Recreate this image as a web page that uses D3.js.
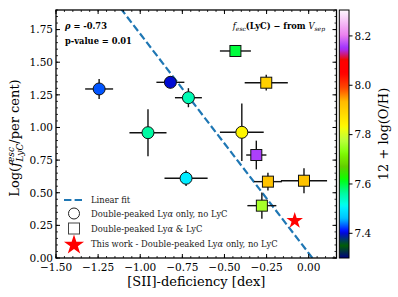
<!DOCTYPE html>
<html>
<head>
<meta charset="utf-8">
<script src="https://cdn.jsdelivr.net/npm/d3@7"></script>
<style>
  body { margin: 0; background: #fff; }
  svg { display: block; font-family: "DejaVu Serif", serif; }
</style>
</head>
<body>
<div id="chart"></div>
<script>
// Data
const circX = [-1.244, -0.821, -0.714, -0.954, -0.728, -0.397];
const circY = [1.295, 1.346, 1.228, 0.960, 0.611, 0.963];
const circXerr = [0.083, 0.083, 0.08, 0.11, 0.128, 0.13];
const circYerr = [0.077, 0.046, 0.073, 0.18, 0.06, 0.22];
const circOH = [7.43, 7.40, 7.55, 7.56, 7.50, 7.84];

const sqX = [-0.435, -0.252, -0.311, -0.242, -0.028, -0.278];
const sqY = [1.586, 1.343, 0.789, 0.585, 0.592, 0.401];
const sqXerr = [0.092, 0.128, 0.06, 0.083, 0.137, 0.086];
const sqYerr = [0.0, 0.06, 0.11, 0.068, 0.096, 0.10];
const sqOH = [7.60, 7.90, 8.16, 7.92, 7.92, 7.76];

const starX = [-0.083];
const starY = [0.286];

const fitSlope = -1.68, fitIntercept = 0.037;

const xTicks = [-1.5, -1.25, -1.0, -0.75, -0.5, -0.25, 0.0];
const yTicks = [0.0, 0.25, 0.5, 0.75, 1.0, 1.25, 1.5, 1.75];
const cbTicks = [7.4, 7.6, 7.8, 8.0, 8.2];
const legendLabels = ["Linear fit", "Double-peaked Ly\u03b1 only, no LyC", "Double-peaked Ly\u03b1 & LyC", "This work - Double-peaked Ly\u03b1 only, no LyC"];

// gist_ncar colormap segments
const ncarR = [[0,0],[0.3098,0],[0.3725,0.3993],[0.4235,0.5003],[0.5333,1],[0.7922,1],[0.8471,0.6218],[0.898,0.9235],[1,0.9961]];
const ncarG = [[0,0],[0.051,0.3722],[0.1059,0],[0.1569,0.7202],[0.1608,0.7537],[0.1647,0.7752],[0.2157,1],[0.2588,0.9804],[0.2706,0.9804],[0.3176,1],[0.3686,0.8081],[0.4275,1],[0.5216,1],[0.6314,0.7292],[0.6863,0.2796],[0.7451,0],[0.7922,0],[0.8431,0.1753],[0.898,0.5],[1,0.9725]];
const ncarB = [[0,0.502],[0.051,0.0222],[0.1098,1],[0.2039,1],[0.2627,0.6145],[0.3216,0],[0.4157,0],[0.4745,0.2342],[0.5333,0],[0.7922,0],[0.8,0],[0.8431,1],[0.898,0.9341],[1,0.9961]];
const chan = seg => d3.scaleLinear().domain(seg.map(d => d[0])).range(seg.map(d => d[1])).clamp(true);
const rS = chan(ncarR), gS = chan(ncarG), bS = chan(ncarB);
const ohMin = 7.3, ohMax = 8.305;
const norm = d3.scaleLinear().domain([ohMin, ohMax]).range([0, 1]).clamp(true);
function ncar(v) {
    const t = norm(v);
    return d3.rgb(rS(t) * 255, gS(t) * 255, bS(t) * 255).formatHex();
}

const W = 398, H = 297;
const m = { left: 56, right: 336.5, top: 10, bottom: 258 };

const x = d3.scaleLinear().domain([-1.5, 0.165]).range([m.left, m.right]);
const y = d3.scaleLinear().domain([0, 1.9]).range([m.bottom, m.top]);

const svg = d3.select("#chart").append("svg").attr("width", W).attr("height", H);

const defs = svg.append("defs");
defs.append("clipPath").attr("id", "clip").append("rect")
    .attr("x", m.left).attr("y", m.top)
    .attr("width", m.right - m.left).attr("height", m.bottom - m.top);

// Linear fit
const fitG = svg.append("g").attr("clip-path", "url(#clip)");
fitG.append("line")
    .attr("x1", x(-1.5)).attr("y1", y(fitSlope * -1.5 + fitIntercept))
    .attr("x2", x(0.165)).attr("y2", y(fitSlope * 0.165 + fitIntercept))
    .attr("stroke", "#1f77b4").attr("stroke-width", 2.2)
    .attr("stroke-dasharray", "7.4,3.2");

// error bars
function errBars(xs, ys, xe, ye) {
    const g = svg.append("g").attr("stroke", "#111").attr("stroke-width", 1.4);
    xs.forEach((d, i) => {
        g.append("line").attr("x1", x(d - xe[i])).attr("x2", x(d + xe[i]))
            .attr("y1", y(ys[i])).attr("y2", y(ys[i]));
        if (ye[i] > 0)
            g.append("line").attr("x1", x(d)).attr("x2", x(d))
                .attr("y1", y(ys[i] - ye[i])).attr("y2", y(ys[i] + ye[i]));
    });
}
errBars(circX, circY, circXerr, circYerr);
errBars(sqX, sqY, sqXerr, sqYerr);

// circles
svg.append("g").selectAll("circle").data(circX).join("circle")
    .attr("cx", d => x(d)).attr("cy", (d, i) => y(circY[i])).attr("r", 6)
    .attr("fill", (d, i) => ncar(circOH[i]))
    .attr("stroke", "#111").attr("stroke-width", 1);

// squares
const sq = 11;
svg.append("g").selectAll("rect").data(sqX).join("rect")
    .attr("x", d => x(d) - sq / 2).attr("y", (d, i) => y(sqY[i]) - sq / 2)
    .attr("width", sq).attr("height", sq)
    .attr("fill", (d, i) => ncar(sqOH[i]))
    .attr("stroke", "#111").attr("stroke-width", 1);

// star
svg.append("g").selectAll("path").data(starX).join("path")
    .attr("d", d3.symbol(d3.symbolStar, 85))
    .attr("transform", (d, i) => `translate(${x(d)},${y(starY[i])})`)
    .attr("fill", "#ff0000");

// axes frame & ticks (inward, all four sides)
const axG = svg.append("g").attr("stroke", "#000");
const xMinor = d3.range(-1.5, 0.166, 0.05);
const yMinor = d3.range(0, 1.91, 0.05);
xMinor.forEach(v => {
    [[m.bottom, -2], [m.top, 2]].forEach(([py, l]) =>
        axG.append("line").attr("x1", x(v)).attr("x2", x(v)).attr("y1", py).attr("y2", py + l).attr("stroke-width", 0.8));
});
xTicks.forEach(v => {
    [[m.bottom, -4], [m.top, 4]].forEach(([py, l]) =>
        axG.append("line").attr("x1", x(v)).attr("x2", x(v)).attr("y1", py).attr("y2", py + l).attr("stroke-width", 1));
});
yMinor.forEach(v => {
    [[m.left, 2], [m.right, -2]].forEach(([px, l]) =>
        axG.append("line").attr("y1", y(v)).attr("y2", y(v)).attr("x1", px).attr("x2", px + l).attr("stroke-width", 0.8));
});
yTicks.forEach(v => {
    [[m.left, 4], [m.right, -4]].forEach(([px, l]) =>
        axG.append("line").attr("y1", y(v)).attr("y2", y(v)).attr("x1", px).attr("x2", px + l).attr("stroke-width", 1));
});
svg.append("rect").attr("x", m.left).attr("y", m.top)
    .attr("width", m.right - m.left).attr("height", m.bottom - m.top)
    .attr("fill", "none").attr("stroke", "#000").attr("stroke-width", 1.3);

const fmt = v => d3.format(".2f")(v).replace("-", "\u2212");
svg.append("g").selectAll("text").data(xTicks).join("text")
    .attr("x", d => x(d)).attr("y", 270.5).attr("text-anchor", "middle")
    .attr("font-size", 10.5).text(fmt);
svg.append("g").selectAll("text").data(yTicks).join("text")
    .attr("x", 53).attr("y", d => y(d) + 3.8).attr("text-anchor", "end")
    .attr("font-size", 10.5).text(fmt);

// axis labels
svg.append("text").attr("x", (m.left + m.right) / 2).attr("y", 286)
    .attr("text-anchor", "middle").attr("font-size", 13).text("[SII]-deficiency [dex]");

const yl = svg.append("text").attr("transform", `translate(19,${(m.top + m.bottom) / 2 + 4}) rotate(-90)`)
    .attr("text-anchor", "middle").attr("font-size", 13);
yl.append("tspan").text("Log(");
yl.append("tspan").attr("font-style", "italic").text("f");
const supT = yl.append("tspan").attr("font-style", "italic").attr("font-size", 9).attr("dy", -5).text("esc");
yl.append("tspan").attr("font-style", "italic").attr("font-size", 9).attr("dy", 9).attr("dx", -14.5).text("LyC");
yl.append("tspan").attr("dy", -4).text("/per cent)");

// annotations
const ann = svg.append("g").attr("font-size", 8.3).attr("font-weight", "bold");
ann.append("text").attr("x", 65).attr("y", 29).attr("font-style", "italic").text("\u03c1")
    .append("tspan").attr("font-style", "normal").text(" = -0.73");
ann.append("text").attr("x", 65).attr("y", 43.5).text("p-value = 0.01");

const tr = svg.append("text").attr("x", 325).attr("y", 29).attr("text-anchor", "end").attr("font-size", 8.3);
tr.append("tspan").attr("font-style", "italic").text("f");
tr.append("tspan").attr("font-style", "italic").attr("font-size", 6).attr("dy", 2).text("esc");
tr.append("tspan").attr("font-weight", "bold").attr("dy", -2).text("(LyC) \u2212 from ");
tr.append("tspan").attr("font-style", "italic").text("V");
tr.append("tspan").attr("font-style", "italic").attr("font-size", 6).attr("dy", 2).text("sep");

// legend
const lg = svg.append("g").attr("font-size", 8.4).attr("fill", "#222");
const lgY = [200, 213.5, 228.5, 244];
lg.append("line").attr("x1", 64).attr("x2", 84).attr("y1", lgY[0]).attr("y2", lgY[0])
    .attr("stroke", "#1f77b4").attr("stroke-width", 2.2).attr("stroke-dasharray", "7.4,3.2");
lg.append("circle").attr("cx", 74).attr("cy", lgY[1]).attr("r", 5.5)
    .attr("fill", "none").attr("stroke", "#222").attr("stroke-width", 1);
lg.append("rect").attr("x", 74 - 5.5).attr("y", lgY[2] - 5.5).attr("width", 11).attr("height", 11)
    .attr("fill", "none").attr("stroke", "#444").attr("stroke-width", 1);
lg.append("path").attr("d", d3.symbol(d3.symbolStar, 125))
    .attr("transform", `translate(74,${lgY[3] + 1})`).attr("fill", "#ff0000");
legendLabels.forEach((t, i) => {
    const tx = lg.append("text").attr("x", 91).attr("y", lgY[i] + 3);
    const parts = t.split("\u03b1");
    tx.append("tspan").text(parts[0]);
    if (parts.length > 1) {
        tx.append("tspan").attr("font-style", "italic").text("\u03b1");
        tx.append("tspan").text(parts[1]);
    }
});

// colorbar
const cb = { x0: 339.3, x1: 349, top: 10, bottom: 258 };
const cy = d3.scaleLinear().domain([ohMin, ohMax]).range([cb.bottom, cb.top]);
const grad = defs.append("linearGradient").attr("id", "cbg")
    .attr("x1", 0).attr("y1", 1).attr("x2", 0).attr("y2", 0);
d3.range(0, 1.0001, 0.01).forEach(t => {
    grad.append("stop").attr("offset", t).attr("stop-color", ncar(ohMin + t * (ohMax - ohMin)));
});
svg.append("rect").attr("x", cb.x0).attr("y", cb.top)
    .attr("width", cb.x1 - cb.x0).attr("height", cb.bottom - cb.top)
    .attr("fill", "url(#cbg)").attr("stroke", "#000").attr("stroke-width", 1);
const cbG = svg.append("g");
cbTicks.forEach(v => {
    cbG.append("line").attr("x1", cb.x1).attr("x2", cb.x1 + 3.5).attr("y1", cy(v)).attr("y2", cy(v))
        .attr("stroke", "#000").attr("stroke-width", 1);
    cbG.append("text").attr("x", cb.x1 + 5.5).attr("y", cy(v) + 3.8)
        .attr("font-size", 10.5).text(v.toFixed(1));
});
svg.append("text").attr("transform", `translate(388,${(cb.top + cb.bottom) / 2}) rotate(-90)`)
    .attr("text-anchor", "middle").attr("font-size", 13).text("12 + log(O/H)");
</script>
</body>
</html>
